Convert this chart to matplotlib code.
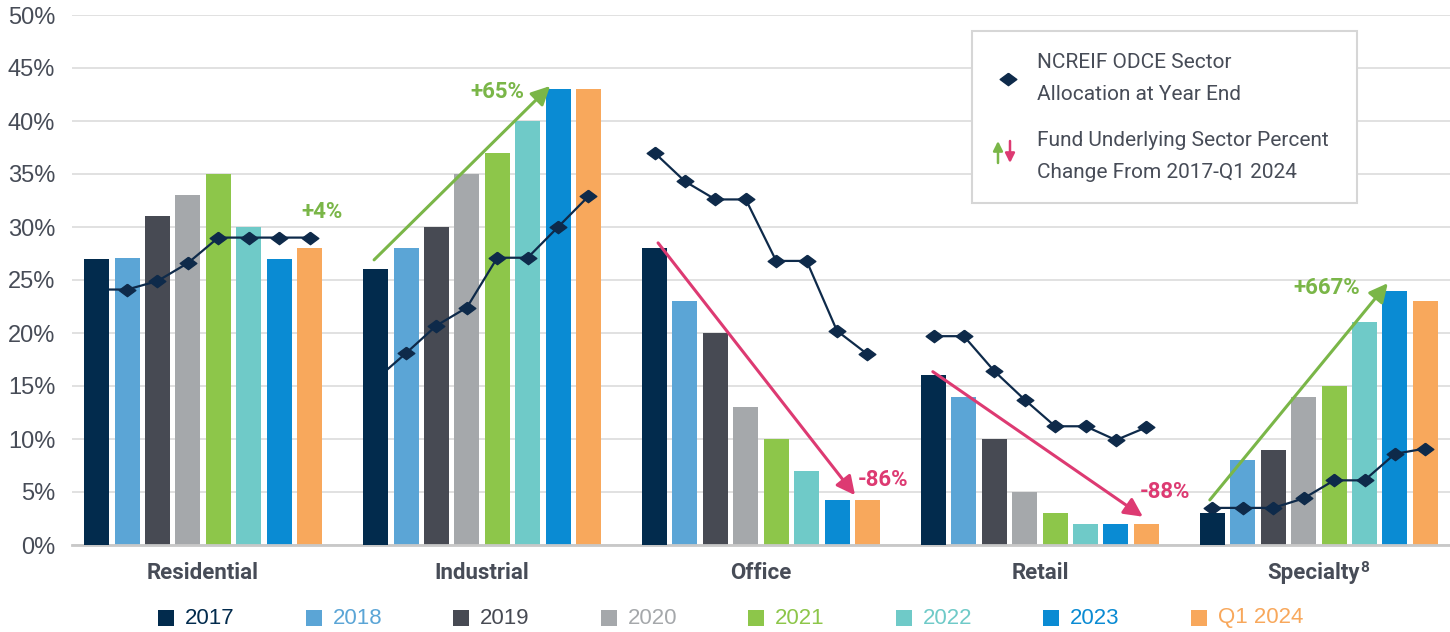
import numpy as np
from matplotlib import pyplot as plt
from matplotlib.patches import Rectangle, FancyArrowPatch

# ---- data ----
sectors = ['Residential', 'Industrial', 'Office', 'Retail', 'Specialty']
footnotes = ['', '', '', '', '8']
years = ['2017', '2018', '2019', '2020', '2021', '2022', '2023', 'Q1 2024']

fund_2017 = [27, 26, 28, 16, 3]
fund_2018 = [27.1, 28, 23, 14, 8]
fund_2019 = [31, 30, 20, 10, 9]
fund_2020 = [33, 35, 13, 5, 14]
fund_2021 = [35, 37, 10, 3, 15]
fund_2022 = [30, 40, 7, 2, 21]
fund_2023 = [27, 43, 4.2, 2, 24]
fund_q1_2024 = [28, 43, 4.2, 2, 23]
fund = [fund_2017, fund_2018, fund_2019, fund_2020, fund_2021, fund_2022, fund_2023, fund_q1_2024]

odce_residential = [24.1, 24.1, 24.9, 26.6, 29.0, 29.0, 29.0, 29.0]
odce_industrial = [15.6, 18.1, 20.7, 22.4, 27.1, 27.1, 30.0, 32.9]
odce_office = [37.0, 34.3, 32.6, 32.6, 26.8, 26.8, 20.2, 18.0]
odce_retail = [19.7, 19.7, 16.4, 13.7, 11.2, 11.2, 9.9, 11.1]
odce_specialty = [3.5, 3.5, 3.5, 4.4, 6.1, 6.1, 8.6, 9.1]
odce = [odce_residential, odce_industrial, odce_office, odce_retail, odce_specialty]

change_labels = ['+4%', '+65%', '-86%', '-88%', '+667%']

colors = ['#022b4d', '#5ba5d6', '#474a53', '#a5a8ab', '#8dc64a', '#6fcac8', '#0a8bd3', '#f8a85c']
navy = '#0e2a4a'
green = '#7ab648'
pink = '#dd3a72'
txt = '#474c57'

W, H = 1450, 632
def fx(x):
    return x / W
def fy(y):
    return 1 - y / H

fig = plt.figure(figsize=(14.5, 6.32), dpi=100)
ax = fig.add_axes([fx(72), fy(545), fx(1450) - fx(72), fy(15) - fy(545)])

x = np.arange(len(sectors))
pitch = 0.109
width = 0.0896
for i, yr in enumerate(years):
    z = 4 if i == 0 else 2
    ax.bar(x + (i - 3.5) * pitch, fund[i], width, color=colors[i], zorder=z)

# ODCE allocation lines
diamond = [(0, 1), (1.35, 0), (0, -1), (-1.35, 0), (0, 1)]
for j in range(len(sectors)):
    ax.plot(j + (np.arange(8) - 3.5) * pitch, odce[j], color=navy, lw=1.6,
            marker=diamond, markersize=12, zorder=3)

# change arrows + labels
arrows = [None,
          ((0.613, 26.9), (1.244, 43.3), green),
          ((1.631, 28.5), (2.337, 4.7), pink),
          ((2.616, 16.35), (3.369, 2.67), pink),
          ((3.609, 4.25), (4.247, 24.7), green)]
label_pos = [(0.427, 31.4), (1.054, 42.7), (2.437, 6.1), (3.448, 5.0), (4.029, 24.2)]
label_col = [green, green, pink, pink, green]
for a in arrows:
    if a is None:
        continue
    ax.annotate('', xy=a[1], xytext=a[0],
                arrowprops=dict(arrowstyle='-|>', color=a[2], lw=2.2,
                                mutation_scale=28, shrinkA=0, shrinkB=0), zorder=6)
for k in range(len(change_labels)):
    ax.text(label_pos[k][0], label_pos[k][1], change_labels[k], color=label_col[k],
            fontsize=16, fontweight='bold', family='Roboto', ha='center', va='center', zorder=7)

ax.set_xlim(-0.47, 4.47)
ax.set_ylim(0, 50)
ax.set_yticks(np.arange(0, 51, 5))
ax.set_yticklabels([f'{v}%' for v in range(0, 51, 5)], family='Liberation Sans',
                   fontsize=17, color=txt)
ax.set_xticks(x)
ax.set_xticklabels([''] * len(sectors))
ax.tick_params(axis='both', length=0)
ax.tick_params(axis='y', pad=12)
ax.grid(axis='y', color='#dcdcdc', lw=1.2, zorder=0)
ax.set_axisbelow(True)
for s in ['top', 'right', 'left']:
    ax.spines[s].set_visible(False)
ax.spines['bottom'].set_color('#c8c8c8')
ax.spines['bottom'].set_linewidth(2)

# category labels (with footnote marker)
fig.canvas.draw()
xt = ax.get_xaxis_transform()
for j, name in enumerate(sectors):
    shift = 5 / 279 if footnotes[j] else 0
    t = ax.text(j - shift, -28 / 530, name, transform=xt, family='Roboto',
                fontweight='bold', fontsize=16, color=txt, ha='center', va='center')
    if footnotes[j]:
        bb = t.get_window_extent(renderer=fig.canvas.get_renderer())
        fig.text((bb.x1 + 0.5) / W, (bb.y1 + 1) / H, footnotes[j], family='Roboto',
                 fontweight='bold', fontsize=11, color=txt, va='top', ha='left')

# legend box (top right)
fig.add_artist(Rectangle((fx(972), fy(203)), fx(1357) - fx(972), fy(31) - fy(203),
                         transform=fig.transFigure, facecolor='white', edgecolor='#d6d6d6',
                         lw=1.5, zorder=10))
fig.add_artist(plt.Line2D([fx(1008)], [fy(79)], marker=diamond, markersize=12,
                          color=navy, transform=fig.transFigure, zorder=11))
box_lines = [('NCREIF ODCE Sector', 63), ('Allocation at Year End', 95),
             ('Fund Underlying Sector Percent', 140), ('Change From 2017-Q1 2024', 172)]
for s, yy in box_lines:
    fig.text(fx(1037), fy(yy), s, family='Roboto', fontsize=15, color=txt,
             va='center', ha='left', zorder=11)
fig.add_artist(FancyArrowPatch((fx(998), fy(163)), (fx(998), fy(141)),
                               transform=fig.transFigure, arrowstyle='-|>', color=green,
                               lw=1.8, mutation_scale=14, shrinkA=0, shrinkB=0, zorder=12))
fig.add_artist(FancyArrowPatch((fx(1010), fy(141)), (fx(1010), fy(163)),
                               transform=fig.transFigure, arrowstyle='-|>', color=pink,
                               lw=1.8, mutation_scale=14, shrinkA=0, shrinkB=0, zorder=12))

# bottom legend
for i, yr in enumerate(years):
    x0 = 158 + i * 147.5
    fig.add_artist(Rectangle((fx(x0), fy(626)), fx(16), fy(610) - fy(626),
                             transform=fig.transFigure, facecolor=colors[i], edgecolor='none'))
    fig.text(fx(x0 + 27), fy(618), yr, family='Liberation Sans', fontsize=16,
             color=colors[i], va='center', ha='left')

fig.savefig('out.png', dpi=100)
